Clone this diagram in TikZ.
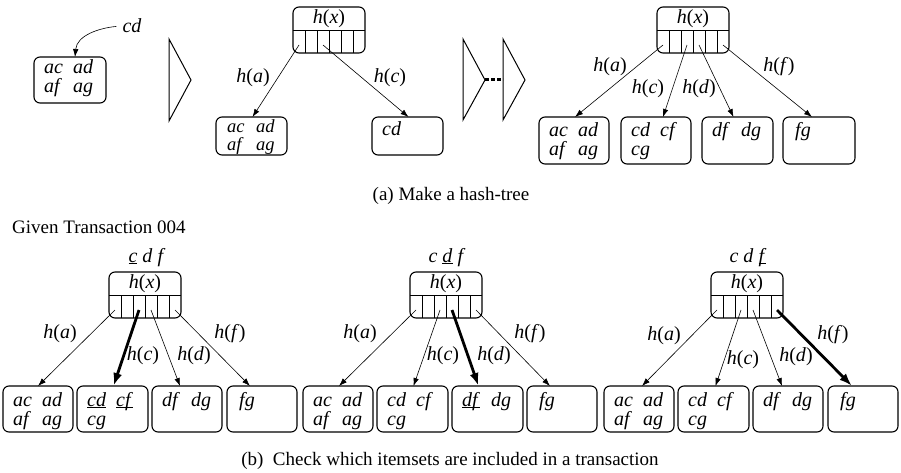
\documentclass[tikz,border=0pt]{standalone}
\usepackage{fontspec}
\setmainfont{Liberation Serif}
\usetikzlibrary{calc,arrows.meta}
\newcommand{\hx}[1]{\textit{h}(\textit{#1})}
\newcommand{\pair}[2]{\makebox[29pt][l]{#1}#2}
\newcommand{\ulit}[1]{\underline{\smash{\textit{#1}}}}
\tikzset{
  every node/.style={font=\fontsize{20}{23}\selectfont},
  captxt/.style={font=\fontsize{19}{22}\selectfont, inner sep=0pt},
  leafbox/.style={draw, rounded corners=6pt, line width=1.1pt, inner sep=0pt, outer sep=0pt},
  hashbox/.style={draw, rounded corners=6pt, line width=1.1pt, minimum width=72pt, minimum height=46pt, inner sep=0pt, outer sep=0pt},
  divline/.style={line width=0.8pt},
  lt/.style={anchor=base west, inner sep=0pt, text height=10pt, text depth=2.5pt},
  smalllt/.style={lt, font=\fontsize{18.5}{21}\selectfont},
  lbl/.style={inner sep=1pt},
  conn/.style={-{Latex[length=8pt,width=5.5pt]}, line width=0.6pt},
  thickconn/.style={-{Latex[length=13pt,width=9pt]}, line width=2.8pt},
  tri/.style={line width=1pt, line join=miter},
}
\newcommand{\leaf}[5]{%
  \node[leafbox, minimum width={#4pt-#2pt}, minimum height={#5pt-#3pt}] (#1) at ({(#2+#4)/2},{(#3+#5)/2}) {};}
\newcommand{\hashnode}[3]{%
  \node[hashbox] (#1) at (#2,{#3+23}) {};
  \draw[divline] (#1.west) -- (#1.east);
  \foreach \kk in {1,...,5} {\draw[divline] ($(#1.south west)+(12*\kk,0)$) -- ($(#1.west)+(12*\kk,0)$);}
  \node[lbl] (#1t) at ($(#1.north)+(0,12)$) {\hx{x}};
  \foreach \kk in {1,...,6} {\coordinate (#1c\kk) at ($(#1.south west)+(12*\kk-6,-8)$);}
}
\begin{document}
\begin{tikzpicture}[x=1pt,y=-1pt]
\useasboundingbox (0,0) rectangle (901,473);

% ---------------- (a) ----------------
\leaf{A0}{34}{57}{106}{103}
\node[lt] (A0x) at ($(A0.north west)+(10,17)$) {\pair{\textit{ac}}{\textit{ad}}};
\node[lt] (A0y) at ($(A0.north west)+(10,36)$) {\pair{\textit{af}}{\textit{ag}}};
\node[lbl] (cdl) at (132,26) {\textit{cd}};
\coordinate (A0in) at ($(A0.north)+(5,0)$);
\draw[conn, shorten <=5pt] (cdl.west) to[out=185,in=85] (A0in);

\coordinate (T1a) at (169,39); \coordinate (T1b) at (191,80); \coordinate (T1c) at (169,121);
\draw[tri] (T1a) -- (T1b) -- (T1c) -- cycle;

\hashnode{H1}{329}{7}
\leaf{A1a}{216}{117}{287}{155}
\leaf{A1b}{372}{117}{443}{155}
\node[smalllt] (A1ax) at ($(A1a.north west)+(11,16)$) {\pair{\textit{ac}}{\textit{ad}}};
\node[smalllt] (A1ay) at ($(A1a.north west)+(11,33)$) {\pair{\textit{af}}{\textit{ag}}};
\node[lt] (A1bx) at ($(A1b.north west)+(10,19)$) {\textit{cd}};
\draw[conn] (H1c1) -- ($(A1a.north)+(1,0)$);
\draw[conn] (H1c3) -- ($(A1b.north)+(1,0)$);
\node[lbl] (H1la) at (253,78) {\hx{a}};
\node[lbl] (H1lc) at (390,78) {\hx{c}};

\coordinate (T2a) at (463,39); \coordinate (T2b) at (485,80); \coordinate (T2c) at (463,120);
\coordinate (T3a) at (503,39); \coordinate (T3b) at (525,80); \coordinate (T3c) at (503,120);
\draw[tri] (T2a) -- (T2b) -- (T2c) -- cycle;
\draw[tri] (T3a) -- (T3b) -- (T3c) -- cycle;
\coordinate (T3m) at (503,80);
\draw[line width=3pt, dash pattern=on 3.5pt off 2.5pt] (T2b) -- (T3m);

\hashnode{H2}{693}{7}
\leaf{A2a}{539}{117}{609}{164}
\leaf{A2b}{621}{117}{691}{164}
\leaf{A2c}{702}{117}{773}{164}
\leaf{A2d}{783}{117}{855}{164}
\node[lt] (A2ax) at ($(A2a.north west)+(10,20)$) {\pair{\textit{ac}}{\textit{ad}}};
\node[lt] (A2ay) at ($(A2a.north west)+(10,39)$) {\pair{\textit{af}}{\textit{ag}}};
\node[lt] (A2bx) at ($(A2b.north west)+(10,20)$) {\pair{\textit{cd}}{\textit{cf}}};
\node[lt] (A2by) at ($(A2b.north west)+(10,39)$) {\textit{cg}};
\node[lt] (A2cx) at ($(A2c.north west)+(10,20)$) {\pair{\textit{df}}{\textit{dg}}};
\node[lt] (A2dx) at ($(A2d.north west)+(12,20)$) {\textit{fg}};
\draw[conn] (H2c1) -- ($(A2a.north)+(1,0)$);
\draw[conn] (H2c3) -- ($(A2b.north)+(7,0)$);
\draw[conn] (H2c4) -- ($(A2c.north)+(-4,0)$);
\draw[conn] (H2c6) -- ($(A2d.north)+(-7,0)$);
\node[lbl] (H2la) at (610,67) {\hx{a}};
\node[lbl] (H2lc) at (648,89) {\hx{c}};
\node[lbl] (H2ld) at (699,89) {\hx{d}};
\node[lbl] (H2lf) at (779,67) {\hx{f}};

\node[captxt, anchor=base] (capa) at (451,200) {(a) Make a hash-tree};

% ---------------- (b) ----------------
\node[captxt, anchor=base west] (given) at (12,233) {Given Transaction 004};

% tree 1
\node[anchor=base, inner sep=0pt] (B1k) at (147,262) {\ulit{c} \textit{d} \textit{f}};
\hashnode{B1}{145}{272}
\leaf{B1a}{3}{386}{73}{432}
\leaf{B1b}{77}{386}{148}{432}
\leaf{B1c}{152}{386}{222}{432}
\leaf{B1d}{227}{386}{297}{432}
\node[lt] (B1ax) at ($(B1a.north west)+(10,20)$) {\pair{\textit{ac}}{\textit{ad}}};
\node[lt] (B1ay) at ($(B1a.north west)+(10,39)$) {\pair{\textit{af}}{\textit{ag}}};
\node[lt] (B1bx) at ($(B1b.north west)+(10,20)$) {\pair{\ulit{cd}}{\ulit{cf}}};
\node[lt] (B1by) at ($(B1b.north west)+(10,39)$) {\textit{cg}};
\node[lt] (B1cx) at ($(B1c.north west)+(10,20)$) {\pair{\textit{df}}{\textit{dg}}};
\node[lt] (B1dx) at ($(B1d.north west)+(12,20)$) {\textit{fg}};
\draw[conn] (B1c1) -- ($(B1a.north)+(0,0)$);
\draw[thickconn] (B1c3) -- ($(B1b.north)+(1,0)$);
\draw[conn] (B1c4) -- ($(B1c.north)+(-7,0)$);
\draw[conn] (B1c6) -- ($(B1d.north)+(-12,0)$);
\node[lbl] (B1la) at (60,334) {\hx{a}};
\node[lbl] (B1lc) at (143,356) {\hx{c}};
\node[lbl] (B1ld) at (194,356) {\hx{d}};
\node[lbl] (B1lf) at (230,334) {\hx{f}};

% tree 2
\node[anchor=base, inner sep=0pt] (B2k) at (447,262) {\textit{c} \ulit{d} \textit{f}};
\hashnode{B2}{446}{272}
\leaf{B2a}{303}{386}{373}{432}
\leaf{B2b}{377}{386}{448}{432}
\leaf{B2c}{452}{386}{523}{432}
\leaf{B2d}{527}{386}{597}{432}
\node[lt] (B2ax) at ($(B2a.north west)+(10,20)$) {\pair{\textit{ac}}{\textit{ad}}};
\node[lt] (B2ay) at ($(B2a.north west)+(10,39)$) {\pair{\textit{af}}{\textit{ag}}};
\node[lt] (B2bx) at ($(B2b.north west)+(10,20)$) {\pair{\textit{cd}}{\textit{cf}}};
\node[lt] (B2by) at ($(B2b.north west)+(10,39)$) {\textit{cg}};
\node[lt] (B2cx) at ($(B2c.north west)+(10,20)$) {\pair{\ulit{df}}{\textit{dg}}};
\node[lt] (B2dx) at ($(B2d.north west)+(12,20)$) {\textit{fg}};
\draw[conn] (B2c1) -- ($(B2a.north)+(1,0)$);
\draw[conn] (B2c3) -- ($(B2b.north)+(1,0)$);
\draw[thickconn] (B2c4) -- ($(B2c.north)+(-9,0)$);
\draw[conn] (B2c6) -- ($(B2d.north)+(-12,0)$);
\node[lbl] (B2la) at (360,334) {\hx{a}};
\node[lbl] (B2lc) at (443,356) {\hx{c}};
\node[lbl] (B2ld) at (494,356) {\hx{d}};
\node[lbl] (B2lf) at (530,334) {\hx{f}};

% tree 3
\node[anchor=base, inner sep=0pt] (B3k) at (748,262) {\textit{c} \textit{d} \ulit{f}};
\hashnode{B3}{747}{272}
\leaf{B3a}{604}{386}{674}{432}
\leaf{B3b}{678}{386}{749}{432}
\leaf{B3c}{753}{386}{823}{432}
\leaf{B3d}{828}{386}{898}{432}
\node[lt] (B3ax) at ($(B3a.north west)+(10,20)$) {\pair{\textit{ac}}{\textit{ad}}};
\node[lt] (B3ay) at ($(B3a.north west)+(10,39)$) {\pair{\textit{af}}{\textit{ag}}};
\node[lt] (B3bx) at ($(B3b.north west)+(10,20)$) {\pair{\textit{cd}}{\textit{cf}}};
\node[lt] (B3by) at ($(B3b.north west)+(10,39)$) {\textit{cg}};
\node[lt] (B3cx) at ($(B3c.north west)+(10,20)$) {\pair{\textit{df}}{\textit{dg}}};
\node[lt] (B3dx) at ($(B3d.north west)+(12,20)$) {\textit{fg}};
\draw[conn] (B3c1) -- ($(B3a.north)+(3,0)$);
\draw[conn] (B3c3) -- ($(B3b.north)+(2,0)$);
\draw[conn] (B3c4) -- ($(B3c.north)+(-6,0)$);
\draw[thickconn] (B3c6) -- ($(B3d.north)+(-11,0)$);
\node[lbl] (B3la) at (664,336) {\hx{a}};
\node[lbl] (B3lc) at (743,360) {\hx{c}};
\node[lbl] (B3ld) at (796,357) {\hx{d}};
\node[lbl] (B3lf) at (833,335) {\hx{f}};

\node[captxt, anchor=base] (capb) at (450,465) {(b)\enspace Check which itemsets are included in a transaction};
\end{tikzpicture}
\end{document}
